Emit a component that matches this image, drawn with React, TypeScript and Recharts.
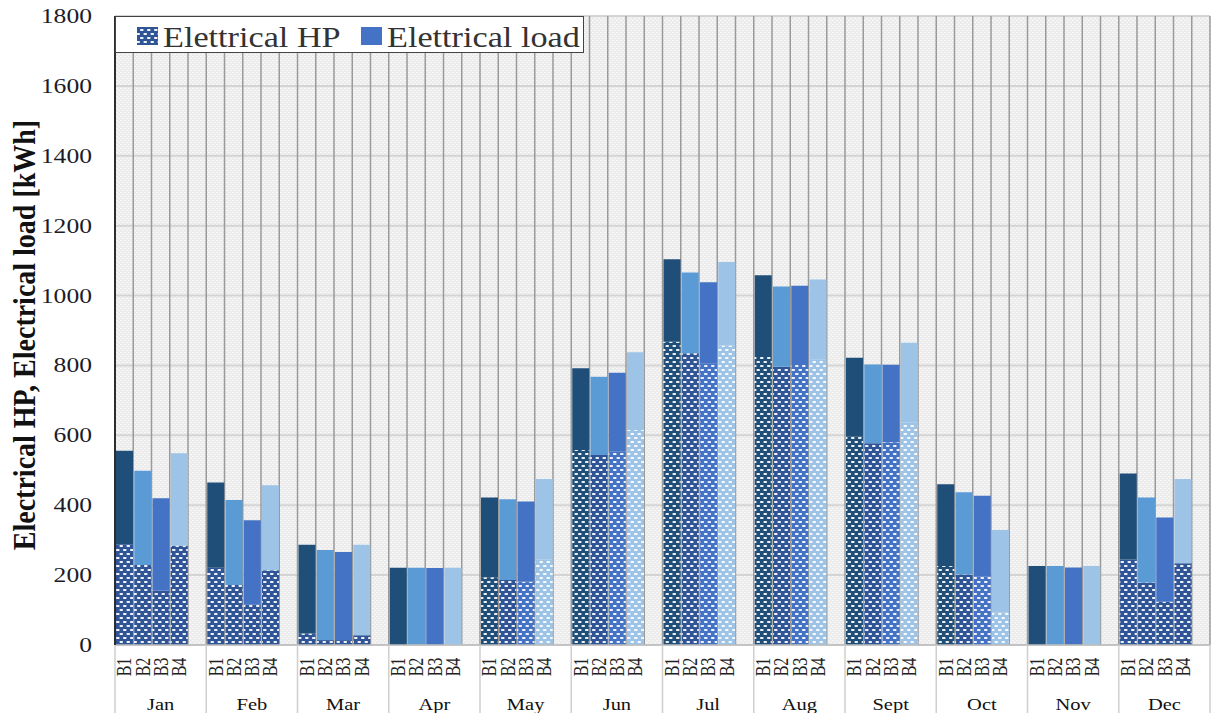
import { BarChart, Bar, XAxis, YAxis, CartesianGrid, Cell, Label } from 'recharts'

const months = ['Jan', 'Feb', 'Mar', 'Apr', 'May', 'Jun', 'Jul', 'Aug', 'Sept', 'Oct', 'Nov', 'Dec']
const buildings = ['B1', 'B2', 'B3', 'B4']

// total electrical load per building [kWh]
const loadB1 = [556, 465, 287, 221, 422, 792, 1104, 1058, 822, 460, 226, 491]
const loadB2 = [499, 415, 272, 221, 417, 768, 1066, 1026, 803, 437, 226, 422]
const loadB3 = [420, 357, 266, 220, 411, 779, 1038, 1028, 802, 427, 222, 365]
const loadB4 = [549, 457, 287, 221, 475, 838, 1096, 1046, 865, 329, 226, 475]

// electrical consumption of the heat pump [kWh]
const hpB1 = [288, 221, 33, 0, 194, 558, 868, 827, 596, 226, 0, 245]
const hpB2 = [229, 172, 14, 0, 186, 544, 835, 796, 577, 202, 0, 179]
const hpB3 = [155, 116, 14, 0, 181, 553, 806, 801, 580, 197, 0, 124]
const hpB4 = [284, 214, 28, 0, 245, 615, 857, 816, 636, 93, 0, 234]

const yTicks = [0, 200, 400, 600, 800, 1000, 1200, 1400, 1600, 1800]

const legendHP = 'Elettrical HP'
const legendLoad = 'Elettrical load'
const yTitle = 'Electrical HP, Electrical load [kWh]'

// styling
const W = 1212
const H = 713
const FONT = '"Liberation Serif", "Times New Roman", serif'
const STRETCH = 1.28
const SOLID = ['#1f4e79', '#5b9bd5', '#4472c4', '#9dc3e6']
const HATCH = ['#1f4e79', '#2f5597', '#4472c4', '#9dc3e6']
const WINTER_HATCH = '#2f5597'
const WINTER = ['Jan', 'Feb', 'Mar', 'Dec']
const SLOTS = months.length * (buildings.length + 1)
const slotW = (W - 115 - 2) / SLOTS

const loads = [loadB1, loadB2, loadB3, loadB4]
const hps = [hpB1, hpB2, hpB3, hpB4]

const rows = months.flatMap((month, m) => [
  ...buildings.map((b, i) => ({
    month,
    slot: b,
    building: i,
    hp: hps[i][m],
    rest: loads[i][m] - hps[i][m],
  })),
  { month, slot: '', building: -1, hp: null, rest: null },
])

function hatchId(month: string, b: number) {
  return WINTER.includes(month) ? 'hp-w' : `hp-${b}`
}

function HatchPattern({ id, color }: { id: string; color: string }) {
  return (
    <pattern id={id} width="7" height="8" patternUnits="userSpaceOnUse">
      <rect width="7" height="8" fill={color} />
      <rect x="0.5" y="1" width="3.5" height="2" rx="0.8" fill="#fff" opacity={0.92} />
      <rect x="4" y="5" width="3.5" height="2" rx="0.8" fill="#fff" opacity={0.92} />
      <rect x="-3" y="5" width="3.5" height="2" rx="0.8" fill="#fff" opacity={0.92} />
    </pattern>
  )
}

function YTick({ x, y, payload }: any) {
  return (
    <g transform={`translate(${x},${y}) scale(${STRETCH},1)`}>
      <text textAnchor="end" dy="0.35em" fontSize={20} fontFamily={FONT} fill="#1c1c28">
        {payload.value}
      </text>
    </g>
  )
}

function SlotTick({ x, y, payload, index }: any) {
  const pos = index % (buildings.length + 1)
  const month = rows[index]?.month
  return (
    <g>
      {payload.value && (
        <g transform={`translate(${x},${y + 22}) scale(${STRETCH},1) rotate(-90)`}>
          <text textAnchor="middle" dy="0.35em" fontSize={16} fontFamily={FONT} fill="#222">
            {payload.value}
          </text>
        </g>
      )}
      {pos === 2 && (
        <g transform={`translate(${x},${y + 59}) scale(${STRETCH},1)`}>
          <text textAnchor="middle" dy="0.35em" fontSize={16} fontFamily={FONT} fill="#111">
            {month}
          </text>
        </g>
      )}
      {pos === 0 && (
        <line x1={x - slotW / 2} x2={x - slotW / 2} y1={y} y2={y + 68} stroke="#cfcfcf" strokeWidth={1.5} />
      )}
      {index === SLOTS - 1 && (
        <line x1={x + slotW / 2} x2={x + slotW / 2} y1={y} y2={y + 68} stroke="#cfcfcf" strokeWidth={1.5} />
      )}
    </g>
  )
}

function YTitle() {
  return (
    <g transform="translate(24,335) scale(1.15,1) rotate(-90)">
      <text textAnchor="middle" dy="0.35em" fontSize={28} fontWeight="bold" fontFamily={FONT} fill="#111">
        {yTitle}
      </text>
    </g>
  )
}

function LegendBox() {
  return (
    <svg
      width={470}
      height={38}
      style={{ position: 'absolute', left: 115, top: 16, overflow: 'visible' }}
    >
      <defs>
        <HatchPattern id="lg-hp" color={WINTER_HATCH} />
      </defs>
      <rect x={0.5} y={0.5} width={468} height={36} fill="#fff" stroke="#444" strokeWidth={1} />
      <rect x={22} y={11} width={21} height={18} fill="url(#lg-hp)" />
      <g transform={`translate(48,30.5) scale(1.18,1)`}>
        <text fontSize={29} fontFamily={FONT} fill="#333">{legendHP}</text>
      </g>
      <rect x={246} y={11} width={21} height={18} fill={SOLID[2]} />
      <g transform={`translate(272,30.5) scale(1.18,1)`}>
        <text fontSize={29} fontFamily={FONT} fill="#333">{legendLoad}</text>
      </g>
    </svg>
  )
}

export default function App() {
  return (
    <div style={{ position: 'absolute', left: 0, top: 0, width: W, height: H, background: '#fff' }}>
      <BarChart
        width={W}
        height={H}
        data={rows}
        margin={{ top: 16, right: 2, left: 0, bottom: 0 }}
        barSize={17}
      >
        <defs>
          <pattern id="bg" width="4" height="4" patternUnits="userSpaceOnUse">
            <rect width="4" height="4" fill="#ececec" />
            <rect x="0" y="0" width="2" height="1" fill="#f8f8f8" />
            <rect x="2" y="2" width="2" height="1" fill="#f8f8f8" />
          </pattern>
          {HATCH.map((c, i) => (
            <HatchPattern key={i} id={`hp-${i}`} color={c} />
          ))}
          <HatchPattern id="hp-w" color={WINTER_HATCH} />
        </defs>
        <CartesianGrid vertical={false} fill="url(#bg)" fillOpacity={1} stroke="#d4d4d4" strokeWidth={2} />
        <CartesianGrid
          horizontal={false}
          stroke="#9a9a9a"
          strokeWidth={1.5}
          verticalCoordinatesGenerator={({ offset }: any) =>
            Array.from({ length: SLOTS + 1 }, (_, i) => offset.left + (i * offset.width) / SLOTS)
          }
        />
        <XAxis
          dataKey="slot"
          height={68}
          interval={0}
          tickLine={false}
          tickSize={0}
          tickMargin={0}
          axisLine={{ stroke: '#bfbfbf', strokeWidth: 1.5 }}
          tick={(p: any) => <SlotTick {...p} />}
        />
        <YAxis
          width={115}
          domain={[0, 1800]}
          ticks={yTicks}
          interval={0}
          tickLine={false}
          tickSize={0}
          tickMargin={23}
          axisLine={{ stroke: '#000', strokeWidth: 1.5 }}
          tick={(p: any) => <YTick {...p} />}
        >
          <Label content={() => <YTitle />} />
        </YAxis>
        <Bar dataKey="hp" stackId="a" isAnimationActive={false}>
          {rows.map((r, i) => (
            <Cell key={`hp-${i}`} fill={r.building < 0 ? 'none' : `url(#${hatchId(r.month, r.building)})`} />
          ))}
        </Bar>
        <Bar dataKey="rest" stackId="a" isAnimationActive={false}>
          {rows.map((r, i) => (
            <Cell key={`rest-${i}`} fill={r.building < 0 ? 'none' : SOLID[r.building]} />
          ))}
        </Bar>
      </BarChart>
      <LegendBox />
    </div>
  )
}
